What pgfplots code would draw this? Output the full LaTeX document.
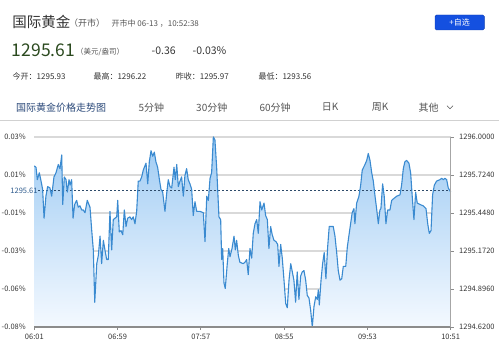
\documentclass[border=0pt]{standalone}
\usepackage{fontspec}
\setmainfont{Noto Sans CJK SC}
\usepackage{pgfplots}
\usepackage{pgfplotstable}
\pgfplotsset{compat=1.18}
\definecolor{linec}{HTML}{3A8AD0}
\definecolor{filltop}{HTML}{9ECBF3}
\definecolor{fillbot}{HTML}{F4F9FF}
\definecolor{pricegreen}{HTML}{2B4A1F}
\definecolor{btnblue}{HTML}{1450E0}
\definecolor{btnedge}{HTML}{0D3CB0}
\definecolor{tabblue}{HTML}{2C4A7A}
\definecolor{reflab}{HTML}{2D5A8C}
\definecolor{refline}{HTML}{2D4A6A}
\definecolor{txt}{HTML}{333333}
\definecolor{txtgray}{HTML}{555555}
\pgfplotstableread{
m p
0 1295.79
1.2 1295.78
2.1 1295.69
3.5 1295.74
4.7 1295.68
5.8 1295.62
6.8 1295.41
8.1 1295.57
9.3 1295.64
10.9 1295.63
12.1 1295.57
13.7 1295.71
15.1 1295.74
16.7 1295.80
17.9 1295.77
19.1 1295.87
19.8 1295.51
20.9 1295.71
22.1 1295.69
23.0 1295.60
24.2 1295.69
24.9 1295.65
26.0 1295.69
27.0 1295.41
28.1 1295.51
29.5 1295.54
30.6 1295.49
31.8 1295.50
33.0 1295.47
34.1 1295.47
35.3 1295.45
36.9 1295.54
38.8 1295.49
40.0 1295.32
41.1 1295.18
42.1 1294.80
43.5 1295.08
44.6 1295.14
45.8 1295.28
46.9 1295.08
48.1 1295.25
49.2 1295.18
50.4 1295.11
51.5 1295.11
52.7 1295.46
53.9 1295.18
55.0 1295.40
56.2 1295.41
57.4 1295.42
58.1 1295.54
59.2 1295.31
60.4 1295.32
61.6 1295.29
62.7 1295.47
63.9 1295.35
65.0 1295.41
66.6 1295.42
67.8 1295.40
68.9 1295.42
70.1 1295.37
71.3 1295.46
72.4 1295.68
73.6 1295.68
74.8 1295.71
75.9 1295.76
77.8 1295.81
79.0 1295.66
80.1 1295.82
81.3 1295.90
82.5 1295.86
83.6 1295.89
84.7 1295.82
85.9 1295.78
87.0 1295.70
88.2 1295.62
89.4 1295.60
91.0 1295.46
92.2 1295.59
93.3 1295.69
94.5 1295.64
95.7 1295.63
97.3 1295.78
98.2 1295.69
99.2 1295.80
100.3 1295.64
101.5 1295.68
102.6 1295.71
103.8 1295.57
104.9 1295.72
106.1 1295.77
107.2 1295.69
108.4 1295.66
109.6 1295.62
110.7 1295.43
111.9 1295.53
113.1 1295.46
115.4 1295.46
117.7 1295.45
118.9 1295.24
120.1 1295.57
121.2 1295.54
122.4 1295.70
123.5 1295.74
124.7 1296.00
125.8 1295.98
127.0 1295.78
128.6 1295.42
129.8 1295.40
130.5 1295.11
131.2 1295.19
132.1 1294.94
133.0 1294.90
134.4 1295.08
135.4 1295.19
136.3 1295.13
137.7 1295.19
139.1 1295.28
140.0 1295.18
140.9 1295.25
142.1 1295.14
143.2 1295.09
145.5 1295.08
146.7 1295.09
147.9 1295.11
149.0 1295.00
150.2 1295.19
151.4 1295.12
152.5 1295.30
153.7 1295.37
154.9 1295.40
156.0 1295.30
157.2 1295.53
158.4 1295.47
160.0 1295.52
161.1 1295.43
162.3 1295.40
163.4 1295.19
164.6 1295.35
165.7 1295.29
166.9 1295.25
168.3 1295.24
169.5 1295.22
170.4 1295.06
171.6 1295.22
172.7 1295.12
173.9 1294.96
175.1 1294.79
176.2 1294.76
177.4 1294.96
178.6 1295.08
179.7 1295.02
180.8 1294.96
182.0 1294.80
183.1 1295.02
184.3 1294.82
185.5 1294.99
186.6 1295.02
187.8 1295.03
189.0 1294.96
190.1 1294.85
191.3 1294.83
192.5 1294.74
193.6 1294.62
194.8 1294.77
196.0 1294.84
197.1 1294.82
197.8 1294.89
198.5 1294.78
199.7 1294.96
200.8 1295.08
201.9 1295.16
203.1 1294.97
204.3 1295.20
205.4 1295.35
206.6 1295.35
208.2 1295.35
209.4 1295.28
210.6 1295.16
211.7 1295.03
212.9 1294.96
214.1 1294.97
215.2 1295.06
216.9 1295.06
218.0 1295.20
219.2 1295.29
220.3 1295.37
221.4 1295.45
222.6 1295.48
223.3 1295.37
224.5 1295.52
226.1 1295.57
227.3 1295.65
228.4 1295.76
230.3 1295.80
231.5 1295.83
232.6 1295.88
233.8 1295.83
235.0 1295.74
236.1 1295.68
237.3 1295.57
238.4 1295.48
239.6 1295.37
240.7 1295.47
241.4 1295.48
242.6 1295.66
243.7 1295.57
244.9 1295.37
246.1 1295.47
247.7 1295.47
248.9 1295.54
250.0 1295.55
252.4 1295.57
254.7 1295.58
255.8 1295.65
257.0 1295.77
258.1 1295.82
259.3 1295.83
260.9 1295.81
262.1 1295.74
263.2 1295.57
264.4 1295.40
265.6 1295.60
266.7 1295.52
268.6 1295.51
270.9 1295.50
272.8 1295.48
274.0 1295.37
275.1 1295.30
276.3 1295.32
277.4 1295.58
278.6 1295.65
280.2 1295.68
282.5 1295.69
283.7 1295.70
284.9 1295.69
286.0 1295.70
287.2 1295.69
288.3 1295.63
290 1295.60
}\pricedata
\begin{document}
\begin{tikzpicture}[x=1pt,y=1pt]
\useasboundingbox (0,0) rectangle (499,364);
% header
\node[anchor=west,inner sep=0,text=txt,font=\fontsize{14.5}{16}\selectfont] at (12.3,342.3) {国际黄金};
\node[anchor=west,inner sep=0,text=txtgray,font=\fontsize{9}{10}\selectfont] at (69,340.5) {（开市）};
\node[anchor=west,inner sep=0,text=txtgray,font=\fontsize{8}{9}\selectfont] at (111.5,340.5) {开市中 06-13 ，10:52:38};
\node[anchor=west,inner sep=0,text=pricegreen,font=\fontsize{17.5}{19}\selectfont] at (11.8,313.5) {1295.61};
\node[anchor=west,inner sep=0,text=txtgray,font=\fontsize{7.5}{9}\selectfont] at (76,312) {（美元/盎司）};
\node[anchor=west,inner sep=0,text=txt,font=\fontsize{10.5}{12}\selectfont] at (151.5,313) {-0.36};
\node[anchor=west,inner sep=0,text=txt,font=\fontsize{10.5}{12}\selectfont] at (192.5,313) {-0.03\%};
\node[anchor=west,inner sep=0,text=txt,font=\fontsize{8}{9}\selectfont] at (12.5,287.3) {今开：1295.93};
\node[anchor=west,inner sep=0,text=txt,font=\fontsize{8}{9}\selectfont] at (93.3,287.3) {最高：1296.22};
\node[anchor=west,inner sep=0,text=txt,font=\fontsize{8}{9}\selectfont] at (175.7,287.3) {昨收：1295.97};
\node[anchor=west,inner sep=0,text=txt,font=\fontsize{8}{9}\selectfont] at (258.3,287.3) {最低：1293.56};
% button
\draw[fill=btnblue,draw=btnedge,rounded corners=1.5pt] (435,334) rectangle (484.3,349);
\node[text=white,font=\fontsize{8}{9}\selectfont,inner sep=0] at (459.7,341.5) {+自选};
% tabs
\node[anchor=west,inner sep=0,text=tabblue,font=\fontsize{10}{11}\selectfont] at (16,256.7) {国际黄金价格走势图};
\node[anchor=west,inner sep=0,text=txtgray,font=\fontsize{10}{11}\selectfont] at (138.3,256.7) {5分钟};
\node[anchor=west,inner sep=0,text=txtgray,font=\fontsize{10}{11}\selectfont] at (196,256.7) {30分钟};
\node[anchor=west,inner sep=0,text=txtgray,font=\fontsize{10}{11}\selectfont] at (259.3,256.7) {60分钟};
\node[anchor=west,inner sep=0,text=txtgray,font=\fontsize{10}{11}\selectfont] at (321.7,256.7) {日K};
\node[anchor=west,inner sep=0,text=txtgray,font=\fontsize{10}{11}\selectfont] at (371.7,256.7) {周K};
\node[anchor=west,inner sep=0,text=txtgray,font=\fontsize{10}{11}\selectfont] at (418.3,256.7) {其他};
\draw[txtgray,line width=0.6pt] (447,258.3) -- (450,255.3) -- (453,258.3);
\draw[black!18,line width=0.8pt] (0,243.3) -- (499,243.3);
% main axis
\begin{axis}[
  at={(34.3pt,37pt)}, anchor=south west,
  width=416.4pt, height=190pt, scale only axis,
  xmin=0, xmax=290, ymin=1294.62, ymax=1296.0,
  axis line style={draw=none},
  clip=false,
  xtick={0,58,116,174,232,290},
  xticklabels={06:01,06:59,07:57,08:55,09:53,10:51},
  ytick={1294.62,1294.896,1295.172,1295.448,1295.724,1296.0},
  yticklabels={-0.08\%,-0.06\%,-0.03\%,-0.01\%,0.01\%,0.03\%},
  ymajorgrids,
  grid style={line width=1.2pt, color=black!15},
  xtick pos=bottom, ytick pos=left,
  tick align=outside, major tick length=3pt,
  xtick style={draw=black!45, line width=0.8pt},
  ytick style={draw=none},
  ticklabel style={font=\fontsize{7.5}{9}\selectfont, text=txt},
  yticklabel style={xshift=-2pt},
  xticklabel style={yshift=-0.5pt},
  /pgf/number format/assume math mode=true,
]
\addplot[draw=none, top color=filltop, bottom color=fillbot] table[x=m,y=p] {\pricedata} |- (axis cs:0,1294.62) -- cycle;
\addplot[refline, line width=0.7pt, dash pattern=on 2pt off 2pt] coordinates {(2.6,1295.61) (290,1295.61)};
\addplot[linec, line width=1.1pt, line join=round] table[x=m,y=p] {\pricedata};
\draw[black!45, line width=1.2pt] (rel axis cs:0,0) -- (rel axis cs:1,0);
\draw[black!35, line width=1pt] (rel axis cs:1,0) -- (rel axis cs:1,1);
\node[anchor=east, inner sep=0, text=reflab, font=\fontsize{7.5}{9}\selectfont] at (axis cs:2.4,1295.61) {1295.61};
\end{axis}
% right axis
\begin{axis}[
  at={(34.3pt,37pt)}, anchor=south west,
  width=416.4pt, height=190pt, scale only axis,
  xmin=0, xmax=290, ymin=1294.62, ymax=1296.0,
  axis x line=none, axis y line*=right,
  axis line style={draw=none},
  ytick={1294.62,1294.896,1295.172,1295.448,1295.724,1296.0},
  tick align=outside, major tick length=3pt,
  ytick style={draw=black!45, line width=0.6pt},
  yticklabel style={font=\fontsize{7.5}{9}\selectfont, text=txt, xshift=2pt,
    /pgf/number format/.cd, fixed, fixed zerofill, precision=4, 1000 sep={}},
  /pgf/number format/assume math mode=true,
]
\addplot[draw=none] coordinates {(0,1295.61)};
\end{axis}
\end{tikzpicture}
\end{document}
